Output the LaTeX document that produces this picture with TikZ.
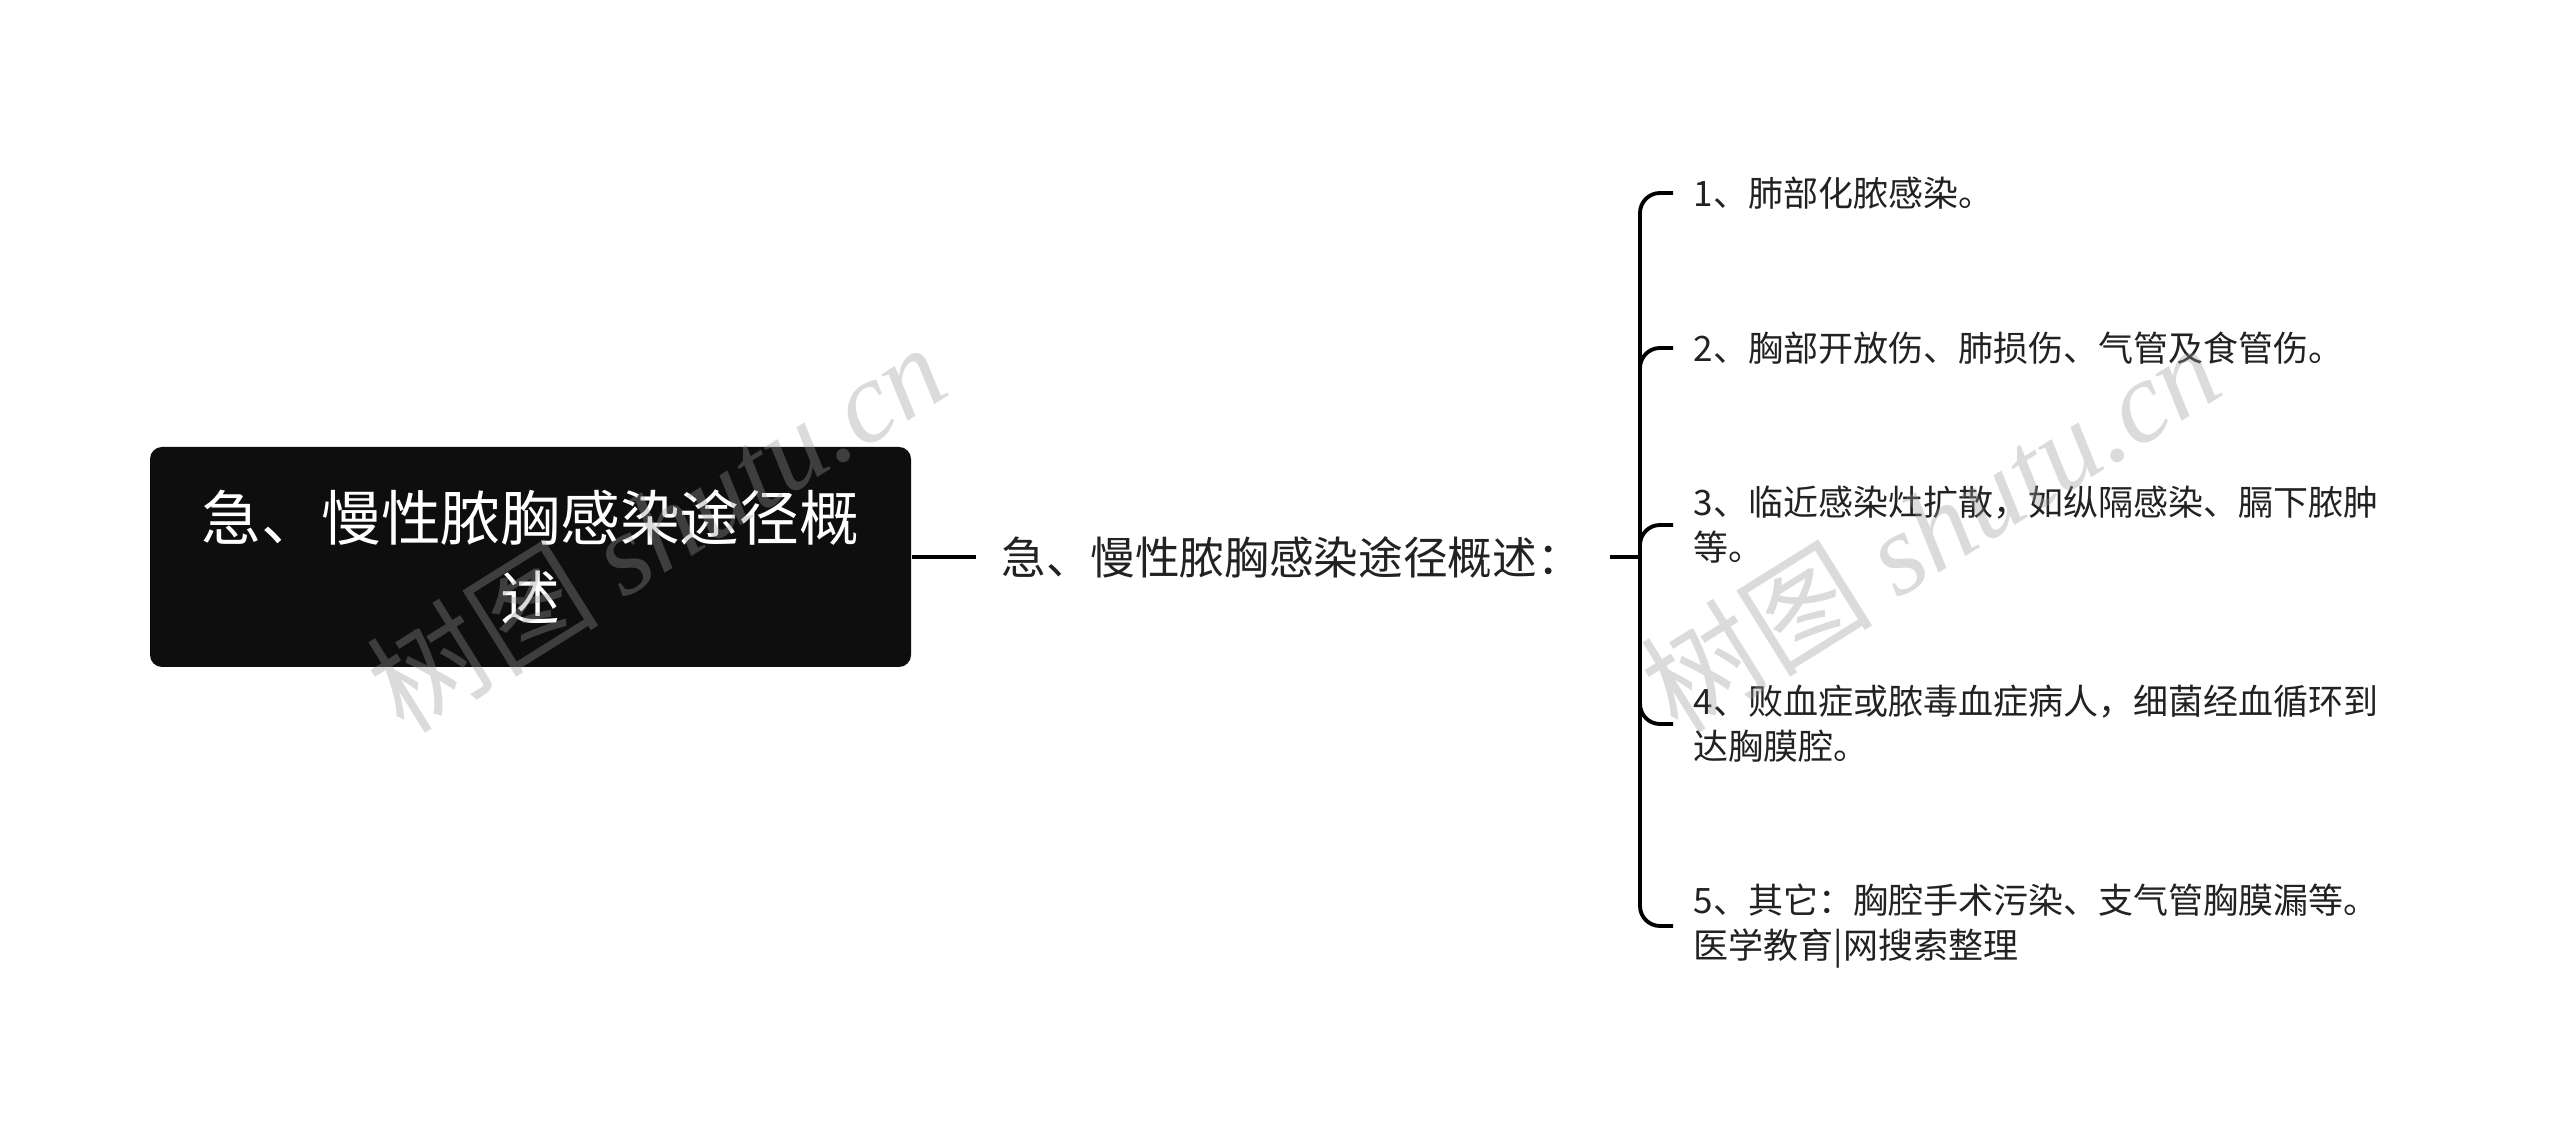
\documentclass[tikz,border=0pt]{standalone}
\usepackage{fontspec}
\setmainfont{Noto Sans CJK SC}
\newfontfamily\wmfont{Liberation Serif}
\usepackage{tikz}
\usetikzlibrary{positioning}
\definecolor{rootfill}{HTML}{0E0E0E}
\definecolor{inktext}{HTML}{222222}
\definecolor{wmgray}{HTML}{9A9A9A}

\tikzset{
  rootbox/.style={fill=rootfill, rounded corners=0.12cm, text=white,
    minimum width=7.61cm, minimum height=2.2cm, align=center,
    font=\fontsize{17}{22.8}\selectfont},
  midlabel/.style={text=inktext, inner xsep=0.25cm, inner ysep=0.1cm,
    font=\fontsize{12.7}{14}\selectfont},
  leaf/.style={text=inktext, anchor=west, align=left, inner xsep=0.2cm,
    inner ysep=0.05cm, font=\fontsize{9.96}{12.8}\selectfont},
  branch/.style={line width=1.1pt, rounded corners=0.2cm},
  wmark/.style={text=wmgray, opacity=0.35, rotate=32,
    font=\fontsize{33}{35}\selectfont}
}

\begin{document}
\begin{tikzpicture}[x=1cm, y=1cm]

  %% canvas
  \useasboundingbox[fill=white] (0,0) rectangle (25.6,11.37);

  %% root and summary label
  \node[rootbox] (root) at (5.305,5.80) {急、慢性脓胸感染途径概\\述};
  \node[midlabel, right=0.64cm of root] (mid) {急、慢性脓胸感染途径概述：};
  \coordinate (spine) at (16.40,5.80);

  %% items
  \node[leaf] (it1) at (16.73,9.44) {1、肺部化脓感染。};
  \node[leaf] (it2) at (16.73,7.89) {2、胸部开放伤、肺损伤、气管及食管伤。};
  \node[leaf] (it3) at (16.73,6.12) {3、临近感染灶扩散，如纵隔感染、膈下脓肿\\等。};
  \node[leaf] (it4) at (16.73,4.13) {4、败血症或脓毒血症病人，细菌经血循环到\\达胸膜腔。};
  \node[leaf] (it5) at (16.73,2.11) {5、其它：胸腔手术污染、支气管胸膜漏等。\\医学教育|网搜索整理};

  %% connectors
  \draw[line width=1.1pt] (root) -- (mid);
  \draw[line width=1.1pt, shorten <=0.03cm] (mid.east) -- (spine);
  \foreach \n in {1,...,5}{
    \draw[branch] (spine) |- (it\n.west);
  }

  %% watermarks
  \node[wmark] (wm1) at (6.56,6.10) {树图 {\wmfont\itshape shutu.cn}};
  \node[wmark] (wm2) at (19.30,6.10) {树图 {\wmfont\itshape shutu.cn}};

\end{tikzpicture}
\end{document}
